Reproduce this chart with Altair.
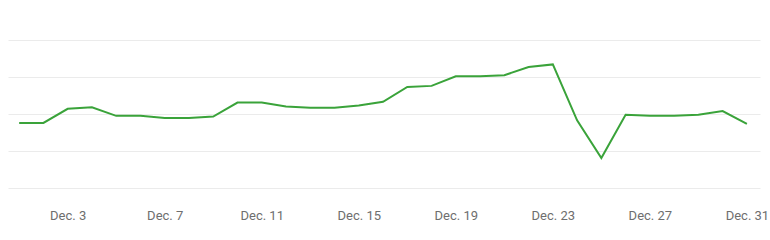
import altair as alt
import pandas as pd

days = list(range(1, 32))
values = [1.76, 1.76, 2.14, 2.18, 1.95, 1.95, 1.89, 1.89, 1.93, 2.31,
          2.31, 2.20, 2.17, 2.17, 2.23, 2.33, 2.73, 2.76, 3.02, 3.02,
          3.05, 3.27, 3.34, 1.83, 0.81, 1.98, 1.95, 1.95, 1.98, 2.08, 1.73]
tick_days = [3, 7, 11, 15, 19, 23, 27, 31]
grid_values = [0, 1, 2, 3, 4]

df = pd.DataFrame({"day": days, "value": values})

chart = alt.Chart(df).mark_line(color="#3aa33a", strokeWidth=2).encode(
    x=alt.X("day:Q", scale=alt.Scale(domain=[0.54, 31.54], nice=False, zero=False),
            axis=alt.Axis(values=tick_days, labelExpr="'Dec. ' + datum.value",
                          grid=False, domain=False, ticks=False, tickSize=0,
                          labelPadding=21, labelFont="Roboto", labelFontSize=13,
                          labelColor="#6e6e6e", title=None)),
    y=alt.Y("value:Q", scale=alt.Scale(domain=[0, 4], nice=False),
            axis=alt.Axis(values=grid_values, labels=False, domain=False, ticks=False,
                          grid=True, gridColor="#ebebeb", gridWidth=1, title=None)),
).properties(
    width=752, height=148,
    autosize=alt.AutoSizeParams(type="none"),
    padding={"left": 8, "top": 40, "right": 10, "bottom": 52},
    view=alt.ViewBackground(stroke="transparent", strokeWidth=0),
).configure_view(stroke="transparent").configure(background="white")

chart.save("out.html", embed_options={"renderer": "svg", "actions": False})
